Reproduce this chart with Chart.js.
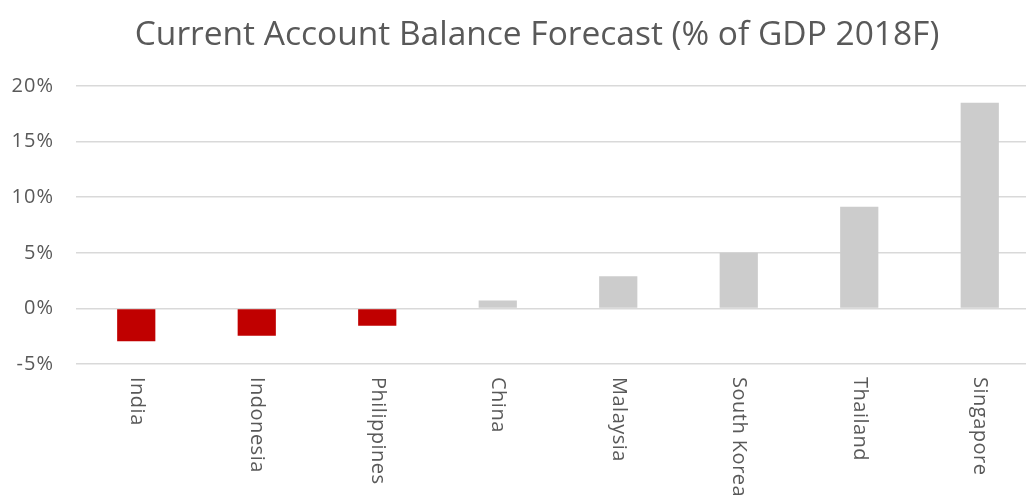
<!DOCTYPE html>
<html>
<head>
<meta charset="utf-8">
<script src="https://cdn.jsdelivr.net/npm/chart.js@4"></script>
<style>
  html, body { margin: 0; padding: 0; background: #fff; overflow: hidden; }
  #wrap { position: relative; width: 1040px; height: 496px; }
</style>
</head>
<body>
<div id="wrap"><canvas id="chart"></canvas></div>
<script>
var titleText = 'Current Account Balance Forecast (% of GDP 2018F)';
var countries = ['India', 'Indonesia', 'Philippines', 'China', 'Malaysia', 'South Korea', 'Thailand', 'Singapore'];
var balance = [-2.95, -2.45, -1.55, 0.7, 2.9, 5.0, 9.15, 18.5];
var yTicks = [-5, 0, 5, 10, 15, 20];

var textColor = '#595959';
var fontName = '"Open Sans", sans-serif';

// title and top-to-bottom category labels are drawn by hand
var labelPlugin = {
  id: 'labelPlugin',
  beforeDraw: function(chart) {
    chart.ctx.letterSpacing = '1px';
  },
  afterDraw: function(chart) {
    var ctx = chart.ctx;
    var xs = chart.scales.x;
    ctx.save();
    ctx.fillStyle = textColor;
    ctx.letterSpacing = '0px';
    ctx.font = '33.5px ' + fontName;
    ctx.textAlign = 'center';
    ctx.textBaseline = 'alphabetic';
    ctx.fillText(titleText, 537, 45);

    ctx.letterSpacing = '0.5px';
    ctx.font = '20px ' + fontName;
    ctx.textAlign = 'left';
    ctx.textBaseline = 'middle';
    for (var i = 0; i < countries.length; i++) {
      var x = xs.getPixelForTick(i);
      ctx.save();
      ctx.translate(x, 377);
      ctx.rotate(Math.PI / 2);
      ctx.fillText(countries[i], 0, 0);
      ctx.restore();
    }
    ctx.restore();
    ctx.letterSpacing = '0px';
  }
};

var chart = new Chart(document.getElementById('chart'), {
  type: 'bar',
  data: {
    labels: countries,
    datasets: [{
      data: balance,
      backgroundColor: balance.map(function(v) { return v < 0 ? '#c00000' : '#cccccc'; }),
      categoryPercentage: 1,
      barPercentage: 0.317
    }]
  },
  options: {
    responsive: true,
    maintainAspectRatio: false,
    animation: false,
    layout: { padding: { top: 86, bottom: 124, left: 0, right: 0 } },
    plugins: {
      legend: { display: false },
      title: { display: false },
      tooltip: { enabled: false }
    },
    scales: {
      x: {
        grid: { display: false },
        border: { display: false },
        ticks: { display: false }
      },
      y: {
        min: yTicks[0],
        max: yTicks[yTicks.length - 1],
        afterBuildTicks: function(scale) {
          scale.ticks = yTicks.map(function(v) { return { value: v }; });
        },
        afterFit: function(scale) { scale.width = 76; },
        grid: { color: '#d9d9d9', lineWidth: 1.5, drawTicks: false },
        border: { display: false },
        ticks: {
          padding: 22,
          color: textColor,
          font: { family: fontName, size: 20 },
          callback: function(v) { return v + '%'; }
        }
      }
    }
  },
  plugins: [labelPlugin]
});
</script>
</body>
</html>
